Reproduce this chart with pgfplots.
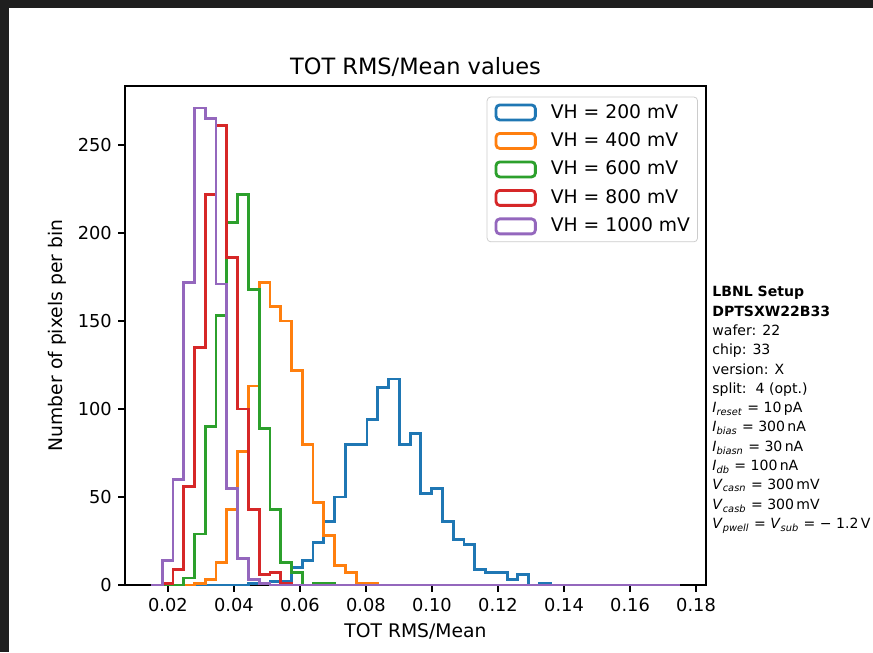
\documentclass[border=0pt]{standalone}
\usepackage{fontspec}
\setmainfont{DejaVu Sans}
\usepackage{pgfplots}
\pgfplotsset{compat=1.18}
\usepackage{pgfplotstable}
\definecolor{c0}{HTML}{1F77B4}
\definecolor{c1}{HTML}{FF7F0E}
\definecolor{c2}{HTML}{2CA02C}
\definecolor{c3}{HTML}{D62728}
\definecolor{c4}{HTML}{9467BD}
\definecolor{frame}{HTML}{1F1F1F}
\pgfplotstableread{
x b o g r p
0.015000 0 0 0 0 0
0.018265 0 0 0 1 14
0.021531 0 0 0 9 60
0.024796 0 0 4 56 172
0.028061 0 1 29 135 271
0.031327 0 3 90 222 265
0.034592 0 13 153 261 171
0.037857 0 43 206 186 55
0.041122 0 76 222 100 15
0.044388 1 113 168 43 3
0.047653 1 172 89 6 1
0.050918 2 158 43 7 0
0.054184 2 150 13 1 0
0.057449 10 122 7 0 0
0.060714 14 80 0 0 0
0.063980 24 47 1 0 0
0.067245 36 28 1 0 0
0.070510 50 11 0 0 0
0.073776 80 7 0 0 0
0.077041 80 1 0 0 0
0.080306 94 1 0 0 0
0.083571 112 0 0 0 0
0.086837 117 0 0 0 0
0.090102 80 0 0 0 0
0.093367 86 0 0 0 0
0.096633 52 0 0 0 0
0.099898 55 0 0 0 0
0.103163 36 0 0 0 0
0.106429 26 0 0 0 0
0.109694 23 0 0 0 0
0.112959 9 0 0 0 0
0.116224 7 0 0 0 0
0.119490 7 0 0 0 0
0.122755 3 0 0 0 0
0.126020 6 0 0 0 0
0.129286 0 0 0 0 0
0.132551 1 0 0 0 0
0.135816 0 0 0 0 0
0.139082 0 0 0 0 0
0.142347 0 0 0 0 0
0.145612 0 0 0 0 0
0.148878 0 0 0 0 0
0.152143 0 0 0 0 0
0.155408 0 0 0 0 0
0.158673 0 0 0 0 0
0.161939 0 0 0 0 0
0.165204 0 0 0 0 0
0.168469 0 0 0 0 0
0.171735 0 0 0 0 0
0.175000 0 0 0 0 0
}\hist
\begin{document}
\begin{tikzpicture}[x=0.5336pt,y=0.5336pt]
\useasboundingbox (0,0) rectangle (873,652);
\fill[frame] (0,0) rectangle (873,652);
\fill[white] (9,0) rectangle (873,644);
\begin{axis}[
  at={(66.70pt,35.75pt)}, anchor=south west,
  scale only axis, width=310.0pt, height=266.3pt,
  xmin=0.007, xmax=0.183, ymin=0, ymax=283.5,
  xtick={0.02,0.04,0.06,0.08,0.10,0.12,0.14,0.16,0.18},
  ytick={0,50,100,150,200,250},
  scaled x ticks=false,
  x tick label style={/pgf/number format/.cd, fixed, fixed zerofill, precision=2},
  /pgf/number format/assume math mode=true,
  tick align=outside, xtick pos=bottom, ytick pos=left,
  major tick length=3.5pt,
  tick style={black, line width=0.8pt},
  axis line style={line width=0.8pt},
  tick label style={font=\fontsize{9.5}{11}\selectfont},
  title={TOT RMS/Mean values},
  title style={font=\fontsize{12}{14}\selectfont, at={(axis description cs:0.5,1)}, anchor=base},
  xlabel={TOT RMS/Mean},
  xlabel style={font=\fontsize{10}{12}\selectfont, at={(axis description cs:0.5,-0.106)}, anchor=base},
  ylabel={Number of pixels per bin},
  ylabel style={font=\fontsize{10}{12}\selectfont, at={(axis description cs:-0.107,0.5)}, anchor=base, rotate=0},
  legend image code/.code={\draw[#1] (0pt,-4pt) rectangle (21pt,4pt);},
  legend cell align=left,
  legend style={at={(axis description cs:0.9862,0.9786)}, anchor=north east,
    font=\fontsize{10}{12}\selectfont, draw=black!20, rounded corners=2pt,
    fill=white, fill opacity=0.8, text opacity=1,
    nodes={inner sep=0pt},
    row sep=5.7pt, column sep=7.5pt,
    inner xsep=4pt, inner ysep=3.5pt},
]
\addplot[const plot, c0, line width=1.5pt] table[x=x,y=b]{\hist};
\addlegendentry{VH = 200 mV}
\addplot[const plot, c1, line width=1.5pt] table[x=x,y=o]{\hist};
\addlegendentry{VH = 400 mV}
\addplot[const plot, c2, line width=1.5pt] table[x=x,y=g]{\hist};
\addlegendentry{VH = 600 mV}
\addplot[const plot, c3, line width=1.5pt] table[x=x,y=r]{\hist};
\addlegendentry{VH = 800 mV}
\addplot[const plot, c4, line width=1.5pt] table[x=x,y=p]{\hist};
\addlegendentry{VH = 1000 mV}
\end{axis}
\node[anchor=north west, inner sep=0pt, align=left, font=\fontsize{7.5}{10.3}\selectfont] at (712,366) {%
\textbf{LBNL Setup}\\
\textbf{DPTSXW22B33}\\
wafer: 22\\
chip: 33\\
version: X\\
split:\ \ 4 (opt.)\\
\textit{I}\textsubscript{\textit{reset}} = 10\,pA\\
\textit{I}\textsubscript{\textit{bias}} = 300\,nA\\
\textit{I}\textsubscript{\textit{biasn}} = 30\,nA\\
\textit{I}\textsubscript{\textit{db}} = 100\,nA\\
\textit{V}\textsubscript{\textit{casn}} = 300\,mV\\
\textit{V}\textsubscript{\textit{casb}} = 300\,mV\\
\textit{V}\textsubscript{\textit{pwell}} = \textit{V}\textsubscript{\textit{sub}} = − 1.2\,V};
\end{tikzpicture}
\end{document}
